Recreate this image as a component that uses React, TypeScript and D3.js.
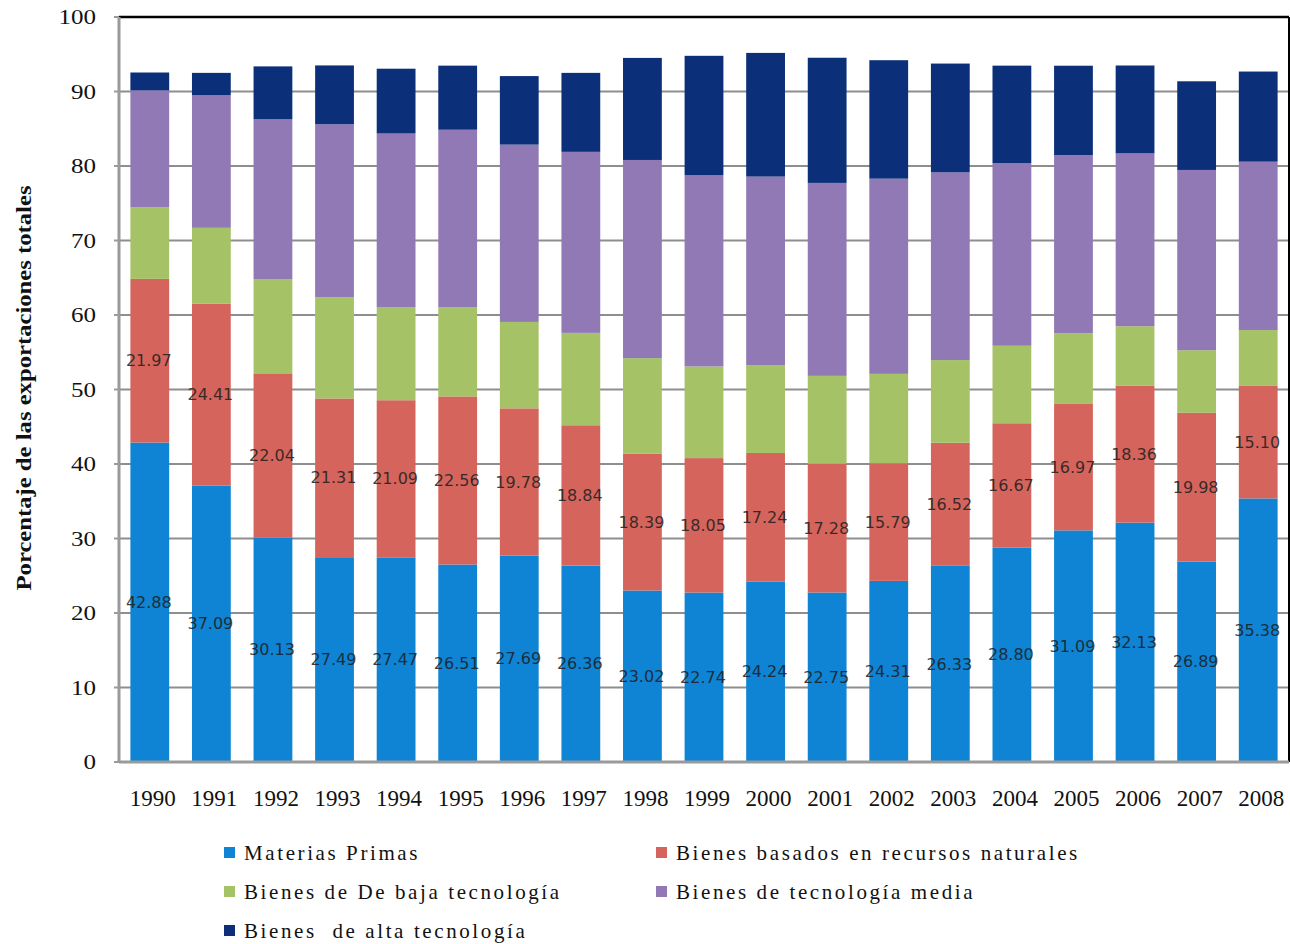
import React from "react";
import * as d3 from "d3";

const years = ["1990","1991","1992","1993","1994","1995","1996","1997","1998","1999","2000","2001","2002","2003","2004","2005","2006","2007","2008"];
const materiasPrimas = [42.88,37.09,30.13,27.49,27.47,26.51,27.69,26.36,23.02,22.74,24.24,22.75,24.31,26.33,28.80,31.09,32.13,26.89,35.38];
const recursosNaturales = [21.97,24.41,22.04,21.31,21.09,22.56,19.78,18.84,18.39,18.05,17.24,17.28,15.79,16.52,16.67,16.97,18.36,19.98,15.10];
const bajaTecnologia = [9.6,10.2,12.6,13.6,12.5,12.0,11.6,12.4,12.8,12.3,11.8,11.8,12.0,11.1,10.4,9.5,8.0,8.4,7.5];
const tecnologiaMedia = [15.7,17.8,21.5,23.2,23.3,23.8,23.8,24.3,26.6,25.7,25.3,25.9,26.2,25.2,24.5,23.9,23.2,24.2,22.6];
const altaTecnologia = [2.4,3.0,7.1,7.9,8.7,8.6,9.2,10.6,13.7,16.0,16.6,16.8,15.9,14.6,13.1,12.0,11.8,11.9,12.1];
const seriesNames = ["Materias Primas","Bienes basados en recursos naturales","Bienes de De baja tecnología","Bienes de tecnología media","Bienes  de alta tecnología"];
const seriesKeys = ["mp","rn","bt","tm","at"];
const seriesColors = ["#0f84d4","#d5655c","#a6c266","#9079b4","#0b2f78"];
const labeledKeys = ["mp","rn"];
const yTicks = [0,10,20,30,40,50,60,70,80,90,100];

export default function App() {
  const W = 1290, H = 944;
  const left = 119, right = 1289, top = 17, bottom = 762;
  const rows = years.map((y, i) => ({
    year: y, mp: materiasPrimas[i], rn: recursosNaturales[i], bt: bajaTecnologia[i], tm: tecnologiaMedia[i], at: altaTecnologia[i],
  }));
  const x = d3.scaleBand<string>().domain(years).range([left, right]).paddingInner(0.37).paddingOuter(0.185);
  const y = d3.scaleLinear().domain([0, 100]).range([bottom, top]);
  const stacked = d3.stack<any>().keys(seriesKeys)(rows);
  const fmt = d3.format(".2f");
  const legendPos = [
    { x: 224, y: 853 }, { x: 656, y: 853 },
    { x: 224, y: 892 }, { x: 656, y: 892 },
    { x: 224, y: 931 },
  ];
  return (
    <svg width={W} height={H} style={{ position: "absolute", left: 0, top: 0, background: "#fff" }}>
      {yTicks.filter(t => t > 0 && t < 100).map(t => (
        <line key={t} x1={left} x2={right} y1={y(t)} y2={y(t)} stroke="#8e8e8e" strokeWidth={2} />
      ))}
      {stacked.map((s, si) => (
        <g key={s.key} fill={seriesColors[si]}>
          {s.map((d, i) => (
            <rect key={i} x={x(years[i])} width={x.bandwidth()} y={y(d[1])} height={y(d[0]) - y(d[1])} />
          ))}
        </g>
      ))}
      {stacked.filter(s => labeledKeys.includes(s.key)).map(s => (
        <g key={"l" + s.key}>
          {s.map((d, i) => (
            <text key={i} x={(x(years[i]) as number) + x.bandwidth() / 2 - 1} y={y((d[0] + d[1]) / 2)} dy="0.35em"
              textAnchor="middle" fontFamily="DejaVu Sans" fontSize={16} fill="#1e1e1e" opacity={0.85}>
              {fmt(d[1] - d[0])}
            </text>
          ))}
        </g>
      ))}
      <line x1={left} x2={right} y1={top} y2={top} stroke="#000" strokeWidth={2.5} />
      <line x1={right} x2={right} y1={top} y2={bottom} stroke="#000" strokeWidth={2} />
      <line x1={left} x2={left} y1={top} y2={bottom + 1} stroke="#9a9a9a" strokeWidth={3} />
      <line x1={left} x2={right} y1={bottom} y2={bottom} stroke="#9a9a9a" strokeWidth={3} />
      {yTicks.map(t => (
        <line key={"tk" + t} x1={left - 5} x2={left} y1={y(t)} y2={y(t)} stroke="#9a9a9a" strokeWidth={2} />
      ))}
      {yTicks.map(t => (
        <text key={"yt" + t} transform={`translate(96,${y(t)}) scale(1.25,1)`} dy="0.35em" textAnchor="end"
          fontFamily="Liberation Serif" fontSize={20} fill="#111">{t}</text>
      ))}
      {years.map(yr => (
        <text key={"xt" + yr} x={(x(yr) as number) + x.bandwidth() / 2 + 3} y={806} textAnchor="middle"
          fontFamily="Liberation Serif" fontSize={23} fill="#111">{yr}</text>
      ))}
      <text transform={`translate(31,388) rotate(-90)`} textAnchor="middle" fontFamily="Liberation Serif"
        fontWeight="bold" fontSize={20} fill="#111" textLength={405} lengthAdjust="spacingAndGlyphs">
        Porcentaje de las exportaciones totales
      </text>
      {seriesNames.map((n, i) => (
        <g key={"lg" + i} transform={`translate(${legendPos[i].x},${legendPos[i].y})`}>
          <rect x={0} y={-6} width={11} height={11} fill={seriesColors[i]} />
          <text x={20} y={0} dy="0.35em" fontFamily="Liberation Serif" fontSize={21} fill="#111"
            letterSpacing={2.6} style={{ whiteSpace: "pre" }}>{n}</text>
        </g>
      ))}
    </svg>
  );
}
